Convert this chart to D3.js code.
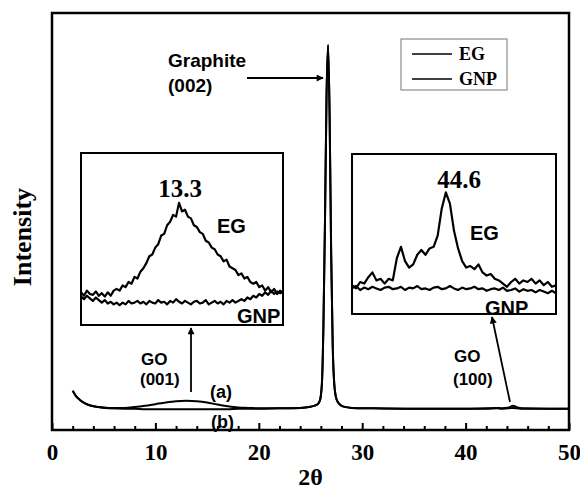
<!DOCTYPE html>
<html>
<head>
<meta charset="utf-8">
<script src="https://cdn.jsdelivr.net/npm/d3@7"></script>
<style>
  body { margin: 0; background: #fff; }
  svg { display: block; }
</style>
</head>
<body>
<div id="canvas"></div>
<script>
// Size of the picture and the plot frame
var w = 580;
var h = 490;
var margin = {top: 13, right: 11, bottom: 60, left: 52};

// ---- data ----
// main pattern (2 theta, intensity a.u.)
var twoTheta = [2.0, 2.3, 2.7, 3.2, 3.8, 4.5, 5.5, 7, 8, 9, 10, 11, 12, 13, 14, 15, 16, 17, 18, 19, 20, 22, 24, 25,
    25.6, 25.9, 26.1, 26.25, 26.4, 26.55, 26.7, 26.85, 27.0, 27.15, 27.3, 27.5, 27.8, 28.2, 29, 31, 35, 40,
    42, 43, 43.5, 44.2, 44.6, 45.0, 45.5, 48, 50];
var egMain = [94, 82, 72, 64, 58, 55, 53, 53, 55, 58, 62, 66, 69, 70, 69, 66, 61, 57, 54, 53, 52, 52, 53, 56,
    60, 70, 110, 250, 500, 800, 923, 750, 420, 200, 110, 75, 62, 56, 53, 52, 51, 51,
    52, 53, 52, 54, 58, 54, 52, 51, 51];
var gnpMain = [94, 82, 72, 64, 58, 55, 52, 51, 51, 50, 50, 50, 50, 50, 50, 50, 50, 50, 51, 51, 51, 52, 53, 56,
    60, 70, 110, 250, 500, 800, 923, 750, 420, 200, 110, 75, 62, 56, 53, 52, 51, 51,
    51, 52, 51, 52, 53, 52, 51, 51, 51];

// inset 1: 2 theta 5..22, step 0.25
var inset1Start = 5, inset1Step = 0.25;
var egInset1 = [19, 17, 20, 18, 17.5, 19.5, 17, 18.5, 16.5, 19, 17, 20, 21, 20, 23, 22, 25, 24, 28, 27,
    31, 33, 36, 40, 41, 45, 47, 52, 53, 58, 60, 64, 63, 71, 66, 67, 63, 62, 58, 57,
    54, 53, 49, 48, 45, 44, 41, 40, 37, 38, 34, 33, 32, 29, 30, 27, 28, 25, 24, 25,
    22, 23, 20, 22, 19, 21, 18, 20, 18.5];
var gnpInset1 = [16.5, 15, 17, 15.5, 14, 16, 14.5, 13, 14.5, 12.5, 13.5, 12, 13, 11.5, 13, 12, 14, 12.5, 13, 14,
    12.5, 13.5, 12, 14, 13, 12.5, 14.5, 13, 13.5, 12, 14, 13, 15, 13.5, 12.5, 14, 13, 12, 13.5, 14,
    12.5, 13, 14.5, 12, 13, 14, 12.5, 13.5, 12, 14, 13, 14.5, 13, 14, 15, 14, 16, 15, 17, 16,
    18, 17, 19, 17.5, 20, 18, 19.5, 18.5, 19];

// inset 2: 2 theta 40..50, step 0.2
var inset2Start = 40, inset2Step = 0.2;
var egInset2 = [18, 16, 20, 19, 23, 26, 21, 22, 19, 22, 21, 35, 42, 33, 29, 31, 37, 40, 37, 41,
    42, 49, 66, 76, 69, 52, 41, 33, 29, 30, 28, 31, 26, 24, 25, 22, 21, 19, 17, 20,
    22, 19, 21, 20, 22, 19, 21, 18, 20, 17, 18];
var gnpInset2 = [16, 17.5, 15, 16.5, 15.5, 17, 16, 15, 16.5, 17, 15.5, 16, 17, 15, 16.5, 16, 17.5, 15.5, 16, 15,
    16.5, 17, 15.5, 16, 17.5, 16, 15, 16.5, 15.5, 16, 17, 15.5, 16, 14.5, 15.5, 16, 15, 16.5, 14.5, 15,
    16, 14, 15.5, 14.5, 15, 13.5, 15, 14, 13, 14.5, 13];

var xTicks = [0, 10, 20, 30, 40, 50];
var legendNames = ["EG", "GNP"];

var serif = "'Liberation Serif', 'Times New Roman', serif";
var sans = "'Liberation Sans', Arial, sans-serif";

var svg = d3.select("#canvas")
    .append("svg")
    .attr("width", w)
    .attr("height", h)
    .style("background-color", "white");

var defs = svg.append("defs");
defs.append("marker")
    .attr("id", "head")
    .attr("viewBox", "0 0 10 10")
    .attr("refX", 9).attr("refY", 5)
    .attr("markerWidth", 10).attr("markerHeight", 7)
    .attr("markerUnits", "userSpaceOnUse")
    .attr("orient", "auto")
    .append("path")
    .attr("d", "M0,0 L10,5 L0,10 z")
    .attr("fill", "black");

// scales
var x_scale = d3.scaleLinear()
    .domain([0, 50])
    .range([margin.left, w - margin.right]);
var y_scale = d3.scaleLinear()
    .domain([0, 1000])
    .range([h - margin.bottom, margin.top]);

var bottom = h - margin.bottom;

// main curves
var mainLine = d3.line()
    .x(d => x_scale(d[0]))
    .y(d => y_scale(d[1]))
    .curve(d3.curveMonotoneX);

[gnpMain, egMain].forEach(function(vals) {
    svg.append("path")
        .datum(twoTheta.map((t, i) => [t, vals[i]]))
        .attr("d", mainLine)
        .attr("fill", "none")
        .attr("stroke", "black")
        .attr("stroke-width", 2);
});

// axis ticks (inward)
var minorTicks = d3.range(0, 51, 2).filter(v => v % 10 !== 0);
svg.append("g")
    .attr("transform", `translate(0,${bottom})`)
    .call(d3.axisBottom(x_scale).tickValues(minorTicks).tickSize(-4).tickFormat(""))
    .call(g => g.select(".domain").remove())
    .call(g => g.selectAll("line").attr("stroke-width", 2));

svg.append("g")
    .attr("transform", `translate(0,${bottom})`)
    .call(d3.axisBottom(x_scale).tickValues(xTicks).tickSize(-7).tickPadding(14))
    .call(g => g.select(".domain").remove())
    .call(g => g.selectAll("line").attr("stroke-width", 2))
    .call(g => g.selectAll("text")
        .attr("font-family", serif)
        .attr("font-weight", "bold")
        .attr("font-size", 23)
        .attr("fill", "black"));

// frame
svg.append("rect")
    .attr("x", margin.left)
    .attr("y", margin.top)
    .attr("width", w - margin.left - margin.right)
    .attr("height", bottom - margin.top)
    .attr("fill", "none")
    .attr("stroke", "black")
    .attr("stroke-width", 2.5);

// axis titles
svg.append("text")
    .attr("x", (margin.left + w - margin.right) / 2)
    .attr("y", 485)
    .attr("text-anchor", "middle")
    .attr("font-family", serif)
    .attr("font-weight", "bold")
    .attr("font-size", 24)
    .text("2θ");

svg.append("text")
    .attr("transform", "translate(31,237) rotate(-90)")
    .attr("text-anchor", "middle")
    .attr("font-family", serif)
    .attr("font-weight", "bold")
    .attr("font-size", 26)
    .text("Intensity");

// legend
var legend = svg.append("g");
legend.append("rect")
    .attr("x", 401).attr("y", 39)
    .attr("width", 106).attr("height", 51)
    .attr("fill", "white")
    .attr("stroke", "#777")
    .attr("stroke-width", 1);
legendNames.forEach(function(name, i) {
    legend.append("line")
        .attr("x1", 412).attr("x2", 452)
        .attr("y1", 54 + i * 25).attr("y2", 54 + i * 25)
        .attr("stroke", "black")
        .attr("stroke-width", 1.5);
    legend.append("text")
        .attr("x", 459).attr("y", 60 + i * 25)
        .attr("font-family", serif)
        .attr("font-weight", "bold")
        .attr("font-size", 18)
        .text(name);
});

// insets
function drawInset(id, box, start, step, series, domain) {
    var xs = d3.scaleLinear().domain(domain).range([box.x0, box.x1]);
    var ys = d3.scaleLinear().domain([0, 100]).range([box.y1, box.y0]);
    defs.append("clipPath").attr("id", id)
        .append("rect")
        .attr("x", box.x0).attr("y", box.y0)
        .attr("width", box.x1 - box.x0).attr("height", box.y1 - box.y0);
    var g = svg.append("g");
    g.append("rect")
        .attr("x", box.x0).attr("y", box.y0)
        .attr("width", box.x1 - box.x0).attr("height", box.y1 - box.y0)
        .attr("fill", "white");
    var line = d3.line()
        .x((d, i) => xs(start + i * step))
        .y(d => ys(d));
    series.forEach(function(vals) {
        g.append("path")
            .datum(vals)
            .attr("d", line)
            .attr("clip-path", `url(#${id})`)
            .attr("fill", "none")
            .attr("stroke", "black")
            .attr("stroke-width", 2.2)
            .attr("stroke-linejoin", "round");
    });
    g.append("rect")
        .attr("x", box.x0).attr("y", box.y0)
        .attr("width", box.x1 - box.x0).attr("height", box.y1 - box.y0)
        .attr("fill", "none")
        .attr("stroke", "black")
        .attr("stroke-width", 2);
    return g;
}

drawInset("clip1", {x0: 81, x1: 283, y0: 153, y1: 325}, inset1Start, inset1Step,
    [egInset1, gnpInset1], [5, 22]);
drawInset("clip2", {x0: 352, x1: 556, y0: 154, y1: 314}, inset2Start, inset2Step,
    [egInset2, gnpInset2], [40, 50]);

function label(x, y, txt, size, font, anchor) {
    svg.append("text")
        .attr("x", x).attr("y", y)
        .attr("text-anchor", anchor || "start")
        .attr("font-family", font)
        .attr("font-weight", "bold")
        .attr("font-size", size)
        .text(txt);
}

label(180, 197, "13.3", 25, serif, "middle");
label(217, 233, "EG", 20, sans);
label(237, 323, "GNP", 20, sans);
label(459, 188, "44.6", 25, serif, "middle");
label(470, 240, "EG", 20, sans);
label(485, 315, "GNP", 20, sans);

label(168, 67, "Graphite", 19, sans);
label(168, 92, "(002)", 19, sans);
label(141, 365, "GO", 17, sans);
label(140, 385, "(001)", 17, sans);
label(454, 362, "GO", 17, sans);
label(453, 385, "(100)", 17, sans);
label(210, 398, "(a)", 18, sans);
label(211, 428, "(b)", 18, sans);

// arrows
function arrow(x1, y1, x2, y2) {
    svg.append("line")
        .attr("x1", x1).attr("y1", y1)
        .attr("x2", x2).attr("y2", y2)
        .attr("stroke", "black")
        .attr("stroke-width", 1.8)
        .attr("marker-end", "url(#head)");
}
arrow(247, 78, 323, 78);
arrow(191, 392, 191, 328);
arrow(510, 402, 492, 317);
</script>
</body>
</html>
